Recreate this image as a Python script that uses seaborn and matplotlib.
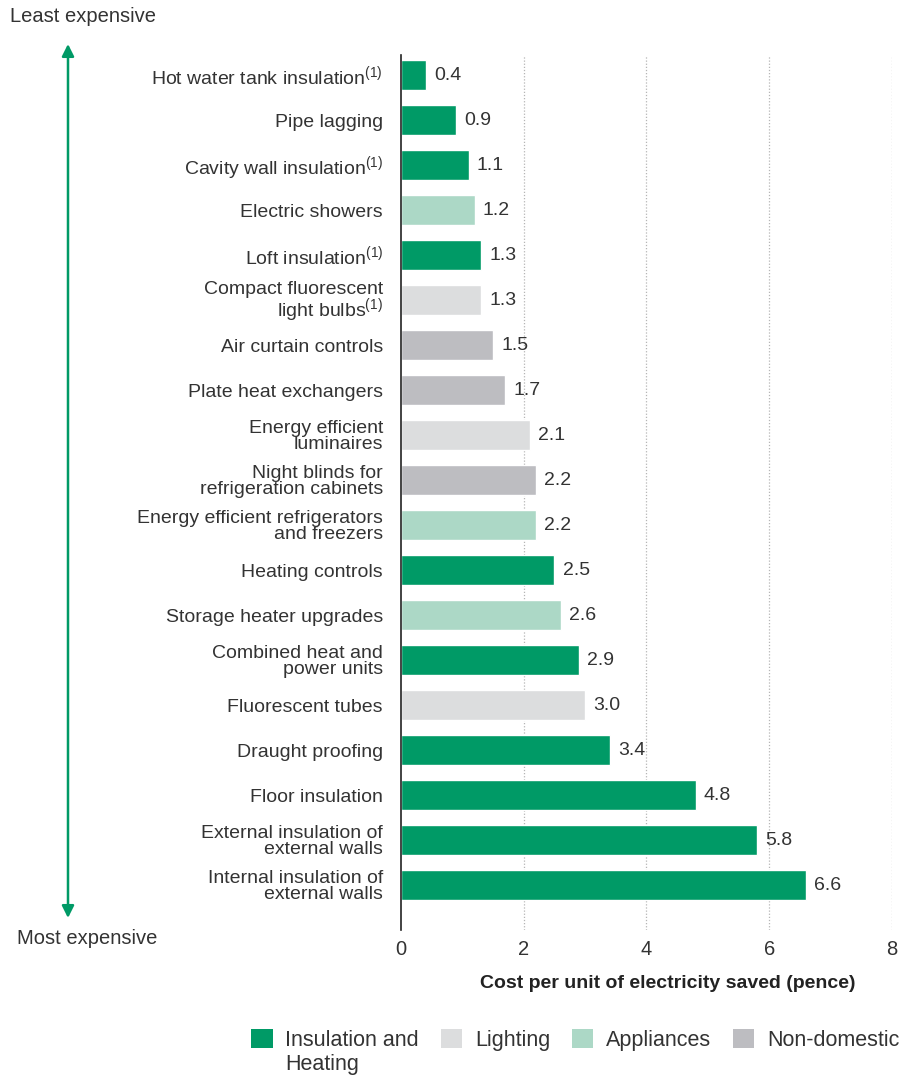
import matplotlib
matplotlib.use("Agg")
import matplotlib.pyplot as plt
from matplotlib.patches import Patch, FancyArrowPatch
import seaborn as sns
import pandas as pd

SUP = r"$^{\mathregular{(1)}}$"

measures = [
    "Hot water tank insulation" + SUP,
    "Pipe lagging",
    "Cavity wall insulation" + SUP,
    "Electric showers",
    "Loft insulation" + SUP,
    "Compact fluorescent\nlight bulbs" + SUP,
    "Air curtain controls",
    "Plate heat exchangers",
    "Energy efficient\nluminaires",
    "Night blinds for\nrefrigeration cabinets",
    "Energy efficient refrigerators\nand freezers",
    "Heating controls",
    "Storage heater upgrades",
    "Combined heat and\npower units",
    "Fluorescent tubes",
    "Draught proofing",
    "Floor insulation",
    "External insulation of\nexternal walls",
    "Internal insulation of\nexternal walls",
]
cost_pence = [0.4, 0.9, 1.1, 1.2, 1.3, 1.3, 1.5, 1.7, 2.1, 2.2, 2.2,
              2.5, 2.6, 2.9, 3.0, 3.4, 4.8, 5.8, 6.6]
sector = ["Insulation and Heating", "Insulation and Heating", "Insulation and Heating",
          "Appliances", "Insulation and Heating", "Lighting", "Non-domestic",
          "Non-domestic", "Lighting", "Non-domestic", "Appliances",
          "Insulation and Heating", "Appliances", "Insulation and Heating",
          "Lighting", "Insulation and Heating", "Insulation and Heating",
          "Insulation and Heating", "Insulation and Heating"]

sector_order = ["Insulation and Heating", "Lighting", "Appliances", "Non-domestic"]
legend_labels = ["Insulation and", "Lighting", "Appliances", "Non-domestic"]
palette = {
    "Insulation and Heating": "#009a66",
    "Lighting": "#dcddde",
    "Appliances": "#acd8c6",
    "Non-domestic": "#bdbdc1",
}
x_ticks = [0, 2, 4, 6, 8]

df = pd.DataFrame({"measure": measures, "cost": cost_pence, "sector": sector})

sns.set_theme(style="white")
plt.rcParams["font.family"] = ["Liberation Sans", "DejaVu Sans"]
TEXT = "#333333"
GREEN = "#009a66"
FS = 14

fig = plt.figure(figsize=(9.12, 10.77), dpi=100)
ax = fig.add_axes([401 / 912, 147 / 1077, 491 / 912, (1022 - 147) / 1077])

sns.barplot(data=df, y="measure", x="cost", hue="sector", hue_order=sector_order,
            palette=palette, dodge=False, width=0.67, orient="h",
            order=measures, legend=False, ax=ax, saturation=1)

for cont in ax.containers:
    ax.bar_label(cont, fmt="%.1f", padding=6, fontsize=FS, color=TEXT)

ax.set_xlim(0, 8)
ax.set_ylim(19.0, -0.45)
ax.set_xticks(x_ticks)
ax.set_xticklabels([str(t) for t in x_ticks])
ax.tick_params(axis="x", length=0, pad=7, labelsize=14.5, labelcolor=TEXT)
ax.tick_params(axis="y", length=0, pad=13, labelsize=FS, labelcolor=TEXT)
for lab in ax.get_yticklabels():
    lab.set_linespacing(0.92)

for t in x_ticks[1:]:
    ax.axvline(t, color="#b5b5b5", lw=0.9, ls=(0, (1, 1.5)), zorder=0)

for side in ["top", "right", "bottom"]:
    ax.spines[side].set_visible(False)
ax.spines["left"].set_color("#222222")
ax.spines["left"].set_linewidth(1.2)

ax.set_ylabel("")
ax.set_xlabel("Cost per unit of electricity saved (pence)", fontsize=14,
              fontweight="bold", color="#222222")
ax.xaxis.set_label_coords((668 - 401) / 491, -(983 - 930) / 875, transform=ax.transAxes)
ax.xaxis.label.set_va("center")

# cost ordering arrow on the left
fig.patches.append(FancyArrowPatch(
    (68 / 912, 1 - 918 / 1077), (68 / 912, 1 - 44 / 1077),
    transform=fig.transFigure, arrowstyle="<|-|>", mutation_scale=18,
    color=GREEN, lw=1.8, shrinkA=0, shrinkB=0))
fig.text(10 / 912, 1 - 17 / 1077, "Least expensive", fontsize=14.5, color=TEXT,
         ha="left", va="center")
fig.text(17 / 912, 1 - 938 / 1077, "Most expensive", fontsize=14.5, color=TEXT,
         ha="left", va="center")

handles = [Patch(facecolor=palette[s], edgecolor="none") for s in sector_order]
leg = fig.legend(handles, legend_labels, loc="center left",
                 bbox_to_anchor=(251 / 912, 1 - 1040 / 1077), ncol=4, frameon=False,
                 fontsize=15.5, handlelength=1.0, handleheight=1.0,
                 handletextpad=0.6, columnspacing=1.0, labelcolor=TEXT,
                 borderpad=0, borderaxespad=0)

# second line of the first legend entry
fig.canvas.draw()
first = leg.get_texts()[0].get_window_extent()
inv = fig.transFigure.inverted()
x0, y0 = inv.transform((first.x0, first.y0))
fig.text(x0, y0 - 24 / 1077, "Heating", fontsize=15.5, color=TEXT,
         ha="left", va="bottom")

fig.savefig("out.png", dpi=100)
